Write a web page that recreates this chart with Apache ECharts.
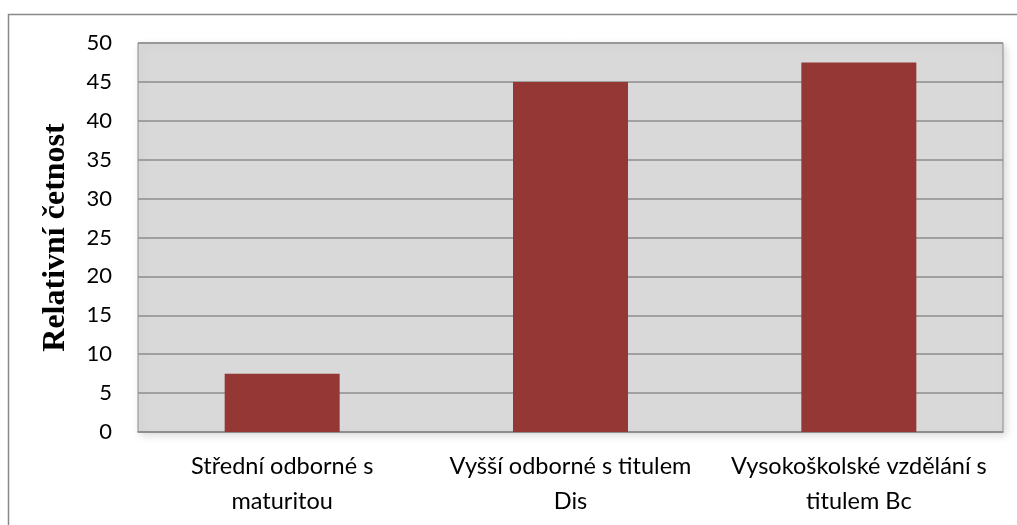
<!DOCTYPE html>
<html><head><meta charset="utf-8">
<script src="https://cdn.jsdelivr.net/npm/echarts@6/dist/echarts.min.js"></script>
<style>html,body{margin:0;padding:0;background:#fff}#c{width:1017px;height:525px}</style>
</head><body><div id="c"></div>
<script>
const categories = ['Střední odborné s\nmaturitou', 'Vyšší odborné s titulem\nDis', 'Vysokoškolské vzdělání s\ntitulem Bc'];
const values = [7.5, 45, 47.5];
const yTitle = 'Relativní četnost';

const chart = echarts.init(document.getElementById('c'), null, {renderer: 'canvas'});
chart.setOption({
  animation: false,
  backgroundColor: '#ffffff',
  graphic: [{
    type: 'rect', silent: true, z: -10,
    shape: {x: 8.5, y: 14.5, width: 1030, height: 530},
    style: {fill: 'none', stroke: '#888888', lineWidth: 1.5}
  }],
  grid: {
    left: 138, right: 14, top: 43, bottom: 93,
    outerBoundsMode: 'none', containLabel: false,
    show: true, backgroundColor: '#d9d9d9', borderColor: '#8c8c8c', borderWidth: 1,
    shadowColor: 'rgba(0,0,0,0.15)', shadowBlur: 8, shadowOffsetX: 3, shadowOffsetY: 3
  },
  xAxis: {
    type: 'category', data: categories,
    axisLine: {lineStyle: {color: '#8c8c8c', width: 1.5}},
    axisTick: {show: false},
    axisLabel: {color: '#000', fontFamily: 'Lato', fontSize: 23.5, lineHeight: 35, margin: 17,
      interval: 0, overflow: 'none', hideOverlap: false}
  },
  yAxis: {
    type: 'value', min: 0, max: 50, interval: 5,
    name: yTitle, nameLocation: 'middle', nameGap: 66,
    nameTextStyle: {fontFamily: 'Liberation Serif', fontWeight: 'bold', fontSize: 32, color: '#000'},
    axisLine: {show: false}, axisTick: {show: false},
    axisLabel: {color: '#000', fontFamily: 'Lato', fontSize: 22, margin: 26},
    splitLine: {lineStyle: {color: '#8c8c8c', width: 1.5}}
  },
  series: [{
    type: 'bar', data: values, barWidth: 115,
    itemStyle: {color: '#953735'}
  }]
});
</script></body></html>
